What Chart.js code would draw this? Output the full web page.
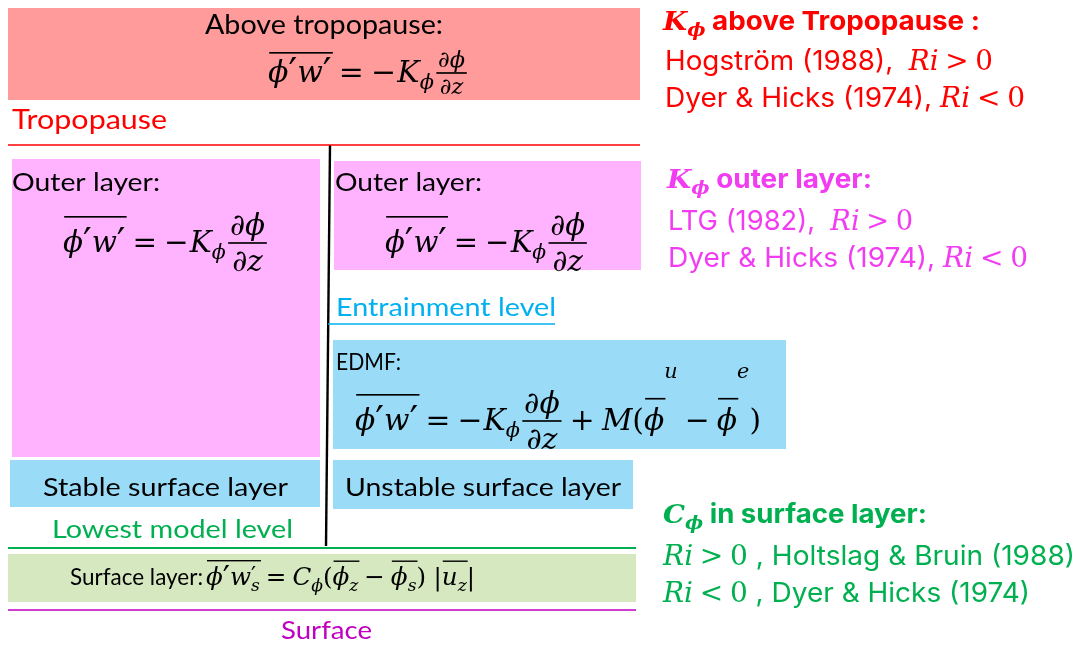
<!DOCTYPE html>
<html>
<head>
<meta charset="utf-8">
<script src="https://cdn.jsdelivr.net/npm/chart.js@4"></script>
<style>
  html, body { margin: 0; background: #fff; }
  #wrap { width: 1080px; height: 646px; }
</style>
</head>
<body>
<div id="wrap"><canvas id="diagram"></canvas></div>
<script>
// diagram space: x 0..1080, y 0..646 (y grows downward)
const boxNames  = ['Above tropopause', 'Outer layer (stable)', 'Outer layer (unstable)', 'EDMF', 'Stable surface layer', 'Unstable surface layer', 'Surface layer'];
const boxLeft   = [8, 12, 334, 333, 10, 333, 8];
const boxRight  = [640, 320, 641, 786, 320, 633, 636];
const boxTop    = [8, 159, 161, 340, 460, 460, 554];
const boxBottom = [100, 457, 270, 449, 507, 509, 602];
const boxKind   = ['free', 'outer', 'outer', 'edmf', 'sfc', 'sfc', 'flux'];

const levelNames = ['Tropopause', 'Entrainment level', 'Lowest model level', 'Surface'];
const levelY     = [145, 324, 548, 610];
const levelFrom  = [8, 328, 8, 8];
const levelTo    = [640, 555, 636, 636];

const dividerX = [330, 326];
const dividerY = [145, 546];

// styles
const boxFill = { free: '#FF9B9B', outer: '#FFB3FF', edmf: '#9ADCF8', sfc: '#9ADCF8', flux: '#D5E8C0' };
const levelColor = ['#FF0000', '#00B0F0', '#00B050', '#C000C0'];
const levelWidth = [1.5, 1.5, 2, 1.5];
const RED = '#FF0000', PINK = '#F23CF2', GREEN = '#00B050';

const MATH = '"DejaVu Serif"';
const FAMILY = { cal: 'Lato', sans: 'Inter', sansb: 'Inter' };

// tiny math layout: tokens -> canvas
const I = t => ({ t, i: 1 });
const R = t => ({ t });
const O = t => ({ t, op: 1 });
const S = (t, f) => ({ t, f: f || 'sans' });
const P = { t: '′', z: 1.3 };
const sp = e => ({ sp: e });
const sub = (...a) => ({ sub: a });
const sup = (rise, ...a) => ({ sup: a, rise });
const both = (up, dn) => ({ up, dn });
const bar = (h, ...a) => ({ bar: a, h });
const frac = (s, num, den) => ({ frac: [num, den], s });

function setFont(ctx, k, sz) {
  sz = sz * (k.z || 1);
  if (k.f) ctx.font = (k.f === 'sansb' ? '700 ' : '400 ') + sz + 'px ' + FAMILY[k.f];
  else ctx.font = (k.i ? 'italic ' : '') + (k.b ? 'bold ' : '') + sz + 'px ' + MATH;
}

function run(ctx, toks, x, y, sz, draw) {
  const x0 = x;
  for (const k of toks) {
    if (k.t !== undefined) {
      setFont(ctx, k, sz);
      const pad = k.op ? sz * 0.24 : 0;
      x += pad;
      if (draw) ctx.fillText(k.t, x, y + (k.z ? sz * 0.12 : 0));
      x += ctx.measureText(k.t).width + pad;
    } else if (k.sp) {
      x += k.sp * sz;
    } else if (k.sub) {
      x += run(ctx, k.sub, x, y + sz * 0.22, sz * 0.7, draw);
    } else if (k.sup) {
      x += run(ctx, k.sup, x, y - sz * (k.rise || 0.45), sz * 0.7, draw);
    } else if (k.up) {
      const a = run(ctx, k.up, x, y - sz * 0.2, sz * 0.7, draw);
      const b = run(ctx, k.dn, x, y + sz * 0.22, sz * 0.7, draw);
      x += Math.max(a, b);
    } else if (k.bar) {
      const w = run(ctx, k.bar, x, y, sz, draw);
      if (draw) ctx.fillRect(x + sz * 0.04, y - sz * k.h, w, Math.max(1.4, sz * 0.055));
      x += w;
    } else if (k.frac) {
      const s = sz * k.s;
      const wn = run(ctx, k.frac[0], 0, 0, s, false);
      const wd = run(ctx, k.frac[1], 0, 0, s, false);
      const w = Math.max(wn, wd) + sz * 0.12;
      const ax = y - sz * 0.3;
      if (draw) {
        run(ctx, k.frac[0], x + (w - wn) / 2, ax - s * 0.28, s, true);
        run(ctx, k.frac[1], x + (w - wd) / 2, ax + s * 0.92, s, true);
        ctx.fillRect(x, ax - sz * 0.028, w, Math.max(1.4, sz * 0.055));
      }
      x += w + sz * 0.04;
    }
  }
  return x - x0;
}

// lay tokens out so they span left..right on the given baseline
function place(ctx, toks, left, right, base, sz, color) {
  const w = run(ctx, toks, 0, 0, sz, false);
  ctx.save();
  ctx.fillStyle = color;
  ctx.textBaseline = 'alphabetic';
  ctx.translate(left, base);
  ctx.scale((right - left) / w, 1);
  run(ctx, toks, 0, 0, sz, true);
  ctx.restore();
}

const flux = h => bar(h, I('ϕ'), P, I('w'), P);
const kGrad = s => [O('='), R('−'), sp(0.04), I('K'), sub(I('ϕ')), sp(0.08), frac(s, [R('∂'), I('ϕ')], [R('∂'), I('z')])];
const KPHI = [{ t: 'K', i: 1, b: 1 }, sub({ t: 'ϕ', i: 1, b: 1 })];
const CPHI = [{ t: 'C', i: 1, b: 1 }, sub({ t: 'ϕ', i: 1, b: 1 })];
const RI_GT = [I('R'), I('i'), O('>'), R('0')];
const RI_LT = [I('R'), I('i'), O('<'), R('0')];

// [tokens, left, right, baseline, size, colour]
const texts = [
  [[S('Above tropopause:', 'cal')], 205, 443, 34, 26, '#000'],
  [[S('Tropopause', 'cal')], 12, 167, 129, 26, RED],
  [[S('Outer layer:', 'cal')], 12, 160, 191, 25, '#000'],
  [[S('Outer layer:', 'cal')], 335, 482, 191, 25, '#000'],
  [[S('Entrainment level', 'cal')], 336, 556, 316, 25, '#00B0F0'],
  [[S('EDMF:', 'cal')], 336, 401, 370, 24, '#000'],
  [[S('Stable surface layer', 'cal')], 43, 288, 496, 25, '#000'],
  [[S('Unstable surface layer', 'cal')], 345, 621, 496, 25, '#000'],
  [[S('Lowest model level', 'cal')], 52, 293, 538, 25, GREEN],
  [[S('Surface', 'cal')], 281, 372, 639, 25, '#C000C0'],
  [[S('Surface layer:', 'cal')], 70, 203, 585, 24, '#000'],

  [[flux(1.0), ...kGrad(0.75)], 268, 468, 82, 30, '#000'],
  [[flux(1.2), ...kGrad(1)], 63, 268, 252, 30, '#000'],
  [[flux(1.2), ...kGrad(1)], 385, 588, 252, 30, '#000'],
  [[flux(1.2), ...kGrad(1), O('+'), I('M'), R('('), bar(1.07, I('ϕ')), sup(1.75, I('u')), O('−'),
    bar(1.07, I('ϕ')), sup(1.75, I('e')), R(')')], 355, 761, 430, 30, '#000'],
  [[bar(1.0, I('ϕ'), P, I('w'), both([P], [I('s')])), O('='),
    I('C'), sub(I('ϕ')), R('('), bar(0.98, I('ϕ'), sub(I('z'))), O('−'), bar(0.98, I('ϕ'), sub(I('s'))), R(')'),
    sp(0.3), R('|'), bar(0.98, I('u'), sub(I('z'))), R('|')], 206, 475, 585, 25, '#000'],

  [[...KPHI, S(' above Tropopause :', 'sansb')], 663, 980, 30, 26, RED],
  [[S('Hogström (1988),  '), ...RI_GT], 665, 993, 70, 27, RED],
  [[S('Dyer & Hicks (1974), '), ...RI_LT], 665, 1025, 107, 27, RED],
  [[...KPHI, S(' outer layer:', 'sansb')], 667, 872, 188, 26, PINK],
  [[S('LTG (1982),  '), ...RI_GT], 668, 913, 230, 27, PINK],
  [[S('Dyer & Hicks (1974), '), ...RI_LT], 668, 1028, 267, 27, PINK],
  [[...CPHI, S(' in surface layer:', 'sansb')], 663, 927, 523, 26, GREEN],
  [[...RI_GT, S(' , Holtslag & Bruin (1988)')], 663, 1075, 565, 27, GREEN],
  [[...RI_LT, S(' , Dyer & Hicks (1974)')], 663, 1030, 602, 27, GREEN]
];

const boxesPlugin = {
  id: 'boxes',
  beforeDatasetsDraw(chart) {
    const { ctx, scales: { x, y } } = chart;
    ctx.save();
    boxNames.forEach((name, i) => {
      const x0 = x.getPixelForValue(boxLeft[i]), x1 = x.getPixelForValue(boxRight[i]);
      const y0 = y.getPixelForValue(boxTop[i]), y1 = y.getPixelForValue(boxBottom[i]);
      ctx.fillStyle = boxFill[boxKind[i]];
      ctx.fillRect(x0, y0, x1 - x0, y1 - y0);
    });
    ctx.restore();
  }
};

const textPlugin = {
  id: 'texts',
  afterDatasetsDraw(chart) {
    const { ctx, scales: { x, y } } = chart;
    texts.forEach(([toks, l, r, b, sz, col]) => {
      place(ctx, toks, x.getPixelForValue(l), x.getPixelForValue(r), y.getPixelForValue(b), sz, col);
    });
  }
};

const datasets = levelNames.map((name, i) => ({
  label: name,
  data: [{ x: levelFrom[i], y: levelY[i] }, { x: levelTo[i], y: levelY[i] }],
  borderColor: levelColor[i],
  borderWidth: levelWidth[i],
  showLine: true,
  pointRadius: 0
}));
datasets.push({
  label: 'divider',
  data: dividerX.map((v, i) => ({ x: v, y: dividerY[i] })),
  borderColor: '#000',
  borderWidth: 2.4,
  showLine: true,
  pointRadius: 0
});

Promise.all(['400 20px Lato', '400 20px Inter', '700 20px Inter', 'italic 20px "DejaVu Serif"', 'italic bold 20px "DejaVu Serif"', '20px "DejaVu Serif"']
  .map(f => document.fonts.load(f))).catch(() => {}).then(() => {
  new Chart(document.getElementById('diagram'), {
    type: 'scatter',
    data: { datasets },
    options: {
      responsive: true,
      maintainAspectRatio: false,
      animation: false,
      layout: { padding: 0 },
      plugins: { legend: { display: false }, tooltip: { enabled: false } },
      scales: {
        x: { type: 'linear', min: 0, max: 1080, display: false },
        y: { type: 'linear', min: 0, max: 646, reverse: true, display: false }
      }
    },
    plugins: [boxesPlugin, textPlugin]
  });
});
</script>
</body>
</html>
